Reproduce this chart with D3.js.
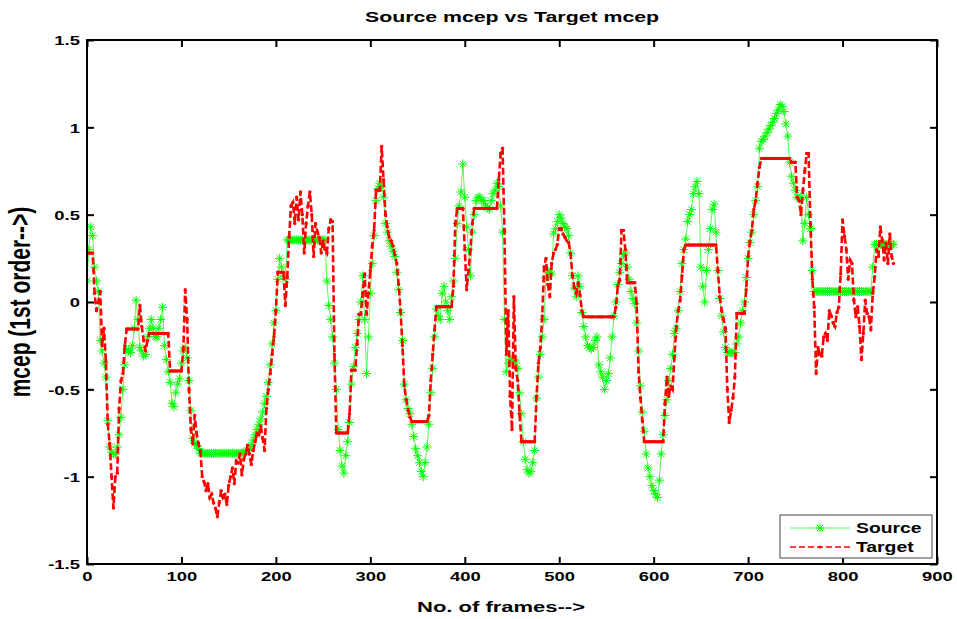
<!DOCTYPE html>
<html>
<head>
<meta charset="utf-8">
<script src="https://cdn.jsdelivr.net/npm/d3@7"></script>
<style>
  html, body { margin: 0; padding: 0; background: #fff; }
  svg { display: block; }
  text { font-family: "Liberation Sans", Arial, sans-serif; font-weight: bold; fill: #000; }
</style>
</head>
<body>
<svg id="chart" width="957" height="619"></svg>
<script>
// ---- data ----
const titleText = "Source mcep vs Target mcep";
const xLabelText = "No. of frames-->";
const yLabelText = "mcep (1st order-->)";
const seriesNames = ["Source", "Target"];
const frameStep = 2; // one value every 2 frames, starting at frame 0
const xTicks = [0, 100, 200, 300, 400, 500, 600, 700, 800, 900];
const yTicks = [-1.5, -1, -0.5, 0, 0.5, 1, 1.5];

const sourceValues = [
  0.12,0.30,0.43,0.38,0.20,0.12,0.06,-0.22,-0.28,-0.35,            // 0-18
  -0.43,-0.68,-0.83,-0.86,-0.87,-0.87,-0.83,-0.76,-0.66,-0.50,     // 20-38
  -0.36,-0.27,-0.28,-0.29,-0.25,-0.15,0.01,-0.10,-0.26,-0.28,      // 40-58
  -0.31,-0.30,-0.20,-0.15,-0.10,-0.15,-0.20,-0.20,-0.15,-0.10,     // 60-78
  -0.03,-0.25,-0.33,-0.40,-0.46,-0.58,-0.60,-0.52,-0.47,-0.44,     // 80-98
  -0.35,-0.28,-0.26,-0.32,-0.45,-0.62,-0.78,-0.81,-0.82,-0.84,     // 100-118
  -0.866,-0.866,-0.866,-0.866,-0.866,-0.866,-0.866,-0.866,-0.866,-0.866, // 120-138
  -0.866,-0.866,-0.866,-0.866,-0.866,-0.866,-0.866,-0.866,-0.866,-0.866, // 140-158
  -0.866,-0.866,-0.866,-0.86,-0.86,-0.85,-0.84,-0.82,-0.79,-0.76,  // 160-178
  -0.73,-0.70,-0.67,-0.63,-0.58,-0.54,-0.46,-0.36,-0.24,-0.12,     // 180-198
  -0.05,0.13,0.25,0.20,0.15,0.13,0.355,0.355,0.355,0.355,          // 200-218
  0.355,0.355,0.355,0.355,0.355,0.355,0.355,0.355,0.355,0.355,     // 220-238
  0.355,0.355,0.355,0.355,0.355,0.355,0.355,0.12,-0.02,-0.10,      // 240-258
  -0.20,-0.35,-0.50,-0.73,-0.85,-0.94,-0.98,-0.88,-0.80,-0.69,     // 260-278
  -0.47,-0.37,-0.26,-0.18,-0.10,0.00,0.15,-0.10,-0.41,-0.20,       // 280-298
  0.05,0.22,0.38,0.58,0.65,0.68,0.66,0.60,0.45,0.40,               // 300-318
  0.35,0.32,0.29,0.26,0.17,0.07,-0.06,-0.22,-0.47,-0.56,           // 320-338
  -0.61,-0.64,-0.70,-0.77,-0.84,-0.88,-0.92,-0.97,-1.00,-0.92,     // 340-358
  -0.83,-0.70,-0.52,-0.38,-0.20,-0.04,-0.08,-0.10,0.05,0.09,       // 360-378
  0.00,-0.05,-0.10,0.03,0.12,0.25,0.45,0.55,0.63,0.79,             // 380-398
  0.60,0.43,0.30,0.15,0.40,0.50,0.58,0.60,0.60,0.58,               // 400-418
  0.58,0.55,0.54,0.53,0.58,0.62,0.64,0.68,0.66,0.55,               // 420-438
  0.40,-0.10,-0.40,-0.35,-0.33,-0.33,-0.33,-0.35,-0.38,-0.52,      // 440-458
  -0.64,-0.80,-0.90,-0.96,-0.98,-0.97,-0.92,-0.85,-0.55,-0.43,     // 460-478
  -0.30,-0.20,-0.10,0.14,0.18,0.17,0.16,0.39,0.42,0.46,            // 480-498
  0.50,0.48,0.45,0.43,0.42,0.38,0.28,0.15,0.08,0.03,               // 500-518
  0.15,0.09,-0.06,-0.14,-0.20,-0.25,-0.26,-0.27,-0.26,-0.22,       // 520-538
  -0.20,-0.36,-0.40,-0.43,-0.50,-0.45,-0.41,-0.32,-0.20,-0.08,     // 540-558
  0.00,0.10,0.17,0.22,0.27,0.28,0.20,0.13,0.06,0.02,               // 560-578
  -0.01,-0.12,-0.28,-0.48,-0.63,-0.74,-0.87,-0.95,-1.00,-1.05,     // 580-598
  -1.08,-1.10,-1.12,-1.02,-0.87,-0.76,-0.65,-0.56,-0.45,-0.38,     // 600-618
  -0.30,-0.18,-0.15,-0.05,0.06,0.22,0.30,0.36,0.46,0.50,           // 620-638
  0.53,0.62,0.66,0.69,0.62,0.20,0.09,0.00,0.18,0.30,               // 640-658
  0.42,0.53,0.56,0.40,0.18,0.02,-0.08,-0.17,-0.26,-0.29,           // 660-678
  -0.29,-0.29,-0.29,-0.29,-0.24,-0.20,-0.12,-0.05,0.00,0.14,       // 680-698
  0.25,0.34,0.40,0.50,0.58,0.66,0.88,0.92,0.93,0.95,               // 700-718
  0.97,0.99,1.01,1.03,1.05,1.08,1.10,1.13,1.12,1.09,               // 720-738
  1.02,0.95,0.80,0.72,0.68,0.64,0.60,0.59,0.60,0.35,               // 740-758
  0.45,0.60,0.50,0.42,0.18,0.06,0.06,0.06,0.06,0.06,               // 760-778
  0.06,0.06,0.06,0.06,0.06,0.06,0.06,0.06,0.06,0.06,               // 780-798
  0.06,0.06,0.06,0.06,0.06,0.06,0.06,0.06,0.06,0.06,               // 800-818
  0.06,0.06,0.06,0.06,0.06,0.06,0.20,0.33,0.33,0.33,               // 820-838
  0.33,0.33,0.33,0.33,0.33,0.33,0.33,0.33                          // 840-854
];

const targetValues = [
  0.28,0.28,0.28,0.28,0.05,-0.05,0.00,0.06,-0.25,-0.15,            // 0-18
  -0.34,-0.70,-0.81,-1.00,-1.18,-1.00,-0.98,-0.61,-0.45,-0.41,     // 20-38
  -0.25,-0.155,-0.155,-0.155,-0.155,-0.155,-0.155,-0.155,-0.02,-0.14, // 40-58
  -0.22,-0.28,-0.22,-0.18,-0.18,-0.18,-0.18,-0.18,-0.18,-0.18,     // 60-78
  -0.18,-0.18,-0.18,-0.18,-0.395,-0.395,-0.395,-0.395,-0.395,-0.395, // 80-98
  -0.395,-0.27,0.07,-0.10,-0.50,-0.73,-0.81,-0.65,-0.75,-0.81,     // 100-118
  -0.85,-1.00,-1.03,-1.08,-1.04,-1.12,-1.10,-1.15,-1.18,-1.23,     // 120-138
  -1.15,-1.08,-1.12,-1.10,-1.16,-1.05,-1.00,-0.95,-1.04,-0.91,     // 140-158
  -0.92,-0.87,-0.99,-0.90,-0.87,-0.82,-0.87,-0.93,-0.85,-0.80,     // 160-178
  -0.75,-0.76,-0.71,-0.78,-0.85,-0.61,-0.50,-0.41,-0.30,-0.20,     // 180-198
  -0.05,0.17,0.17,0.17,0.17,-0.02,0.14,0.37,0.55,0.57,             // 200-218
  0.45,0.60,0.47,0.63,0.50,0.28,0.45,0.55,0.63,0.50,               // 220-238
  0.26,0.45,0.40,0.37,0.28,0.35,0.30,0.28,0.42,0.47,               // 240-258
  0.46,-0.30,-0.75,-0.75,-0.75,-0.75,-0.75,-0.75,-0.75,-0.64,      // 260-278
  -0.39,-0.39,-0.39,-0.24,-0.07,-0.07,0.05,0.16,-0.07,0.05,        // 280-298
  0.18,0.32,0.41,0.64,0.64,0.64,0.89,0.70,0.50,0.43,               // 300-318
  0.37,0.35,0.32,0.27,0.22,0.10,-0.05,-0.25,-0.48,-0.56,           // 320-338
  -0.62,-0.66,-0.685,-0.685,-0.685,-0.685,-0.685,-0.685,-0.685,-0.685, // 340-358
  -0.685,-0.65,-0.45,-0.30,-0.16,-0.027,-0.027,-0.027,-0.027,-0.027, // 360-378
  -0.027,-0.027,-0.027,-0.027,0.09,0.45,0.536,0.536,0.536,0.536,   // 380-398
  0.30,0.07,0.18,0.30,0.45,0.536,0.536,0.536,0.536,0.536,          // 400-418
  0.536,0.536,0.536,0.536,0.536,0.536,0.536,0.536,0.70,0.85,       // 420-438
  0.88,0.41,-0.30,-0.05,-0.54,-0.73,0.03,-0.38,-0.45,-0.64,        // 440-458
  -0.80,-0.80,-0.80,-0.80,-0.80,-0.80,-0.80,-0.80,-0.54,-0.35,     // 460-478
  -0.26,-0.08,0.20,0.25,0.10,0.03,0.22,0.28,0.30,0.33,             // 480-498
  0.42,0.42,0.39,0.37,0.35,0.34,0.28,0.15,0.08,0.05,               // 500-518
  0.11,0.04,-0.05,-0.085,-0.085,-0.085,-0.085,-0.085,-0.085,-0.085, // 520-538
  -0.085,-0.085,-0.085,-0.085,-0.085,-0.085,-0.085,-0.085,-0.085,-0.085, // 540-558
  -0.03,0.09,0.125,0.41,0.41,0.30,0.11,0.11,0.11,0.11,             // 560-578
  0.11,-0.01,-0.40,-0.55,-0.68,-0.80,-0.80,-0.80,-0.80,-0.80,      // 580-598
  -0.80,-0.80,-0.80,-0.80,-0.80,-0.80,-0.58,-0.43,-0.54,-0.48,     // 600-618
  -0.50,-0.31,-0.14,-0.05,0.01,0.15,0.30,0.326,0.326,0.326,        // 620-638
  0.326,0.326,0.326,0.326,0.326,0.326,0.326,0.326,0.326,0.326,     // 640-658
  0.326,0.326,0.326,0.326,0.18,0.03,-0.05,-0.10,-0.15,-0.50,       // 660-678
  -0.69,-0.62,-0.55,-0.43,-0.065,-0.065,-0.065,-0.065,-0.065,0.07, // 680-698
  0.26,0.35,0.41,0.53,0.58,0.68,0.77,0.822,0.822,0.822,            // 700-718
  0.822,0.822,0.822,0.822,0.822,0.822,0.822,0.822,0.822,0.822,     // 720-738
  0.822,0.822,0.822,0.80,0.80,0.80,0.60,0.58,0.50,0.64,            // 740-758
  0.75,0.85,0.85,0.45,0.13,-0.03,-0.41,-0.26,-0.30,-0.31,          // 760-778
  -0.20,-0.18,-0.22,-0.05,-0.08,-0.12,-0.14,-0.06,-0.03,0.16,      // 780-798
  0.47,0.38,0.30,0.13,0.24,0.22,0.01,-0.085,-0.027,-0.14,          // 800-818
  -0.33,-0.18,0.01,-0.065,-0.084,-0.16,0.05,0.145,0.30,0.26,       // 820-838
  0.43,0.355,0.24,0.336,0.22,0.39,0.26,0.22                        // 840-854
];

// ---- layout ----
const svg = d3.select("#chart");
const plot = { left: 87, right: 937, top: 40, bottom: 564 };
const stretch = 1.42; // glyphs in the reference are horizontally widened

const x = d3.scaleLinear().domain([0, 900]).range([plot.left, plot.right]);
const y = d3.scaleLinear().domain([-1.5, 1.5]).range([plot.bottom, plot.top]);

const toPoints = vals => vals.map((v, i) => ({ f: i * frameStep, v }));
const sourceData = toPoints(sourceValues);
const targetData = toPoints(targetValues);

const line = d3.line().x(d => x(d.f)).y(d => y(d.v));

const asterisk = "M-4.5,0H4.5M0,-4.5V4.5M-3.2,-3.2L3.2,3.2M-3.2,3.2L3.2,-3.2";

// clip
svg.append("clipPath").attr("id", "clip").append("rect")
  .attr("x", plot.left).attr("y", plot.top)
  .attr("width", plot.right - plot.left).attr("height", plot.bottom - plot.top);

const gData = svg.append("g").attr("clip-path", "url(#clip)");

// Source: green solid line with asterisks
gData.append("path").datum(sourceData)
  .attr("d", line).attr("fill", "none")
  .attr("stroke", "#00ff00").attr("stroke-width", 0.9).attr("stroke-opacity", 0.75);
gData.append("g").selectAll("path").data(sourceData).join("path")
  .attr("transform", d => `translate(${x(d.f)},${y(d.v)})`)
  .attr("d", asterisk).attr("fill", "none")
  .attr("stroke", "#00ff00").attr("stroke-width", 1);

// Target: red dashed line with dots
gData.append("path").datum(targetData)
  .attr("d", line).attr("fill", "none")
  .attr("stroke", "#ff0000").attr("stroke-width", 2.6)
  .attr("stroke-dasharray", "7,3");
gData.append("g").selectAll("circle").data(targetData).join("circle")
  .attr("cx", d => x(d.f)).attr("cy", d => y(d.v)).attr("r", 1.7)
  .attr("fill", "#ff0000");

// ---- axes ----
const fmt = d => String(d);
const tickLen = 7;

const gx = svg.append("g").attr("transform", `translate(0,${plot.bottom})`)
  .call(d3.axisBottom(x).tickValues(xTicks).tickFormat(fmt).tickSizeInner(-tickLen).tickSizeOuter(0).tickPadding(8));
const gxTop = svg.append("g").attr("transform", `translate(0,${plot.top})`)
  .call(d3.axisTop(x).tickValues(xTicks).tickFormat("").tickSizeInner(-tickLen).tickSizeOuter(0));
const gy = svg.append("g").attr("transform", `translate(${plot.left},0)`)
  .call(d3.axisLeft(y).tickValues(yTicks).tickFormat(fmt).tickSizeInner(-tickLen).tickSizeOuter(0).tickPadding(7));
const gyRight = svg.append("g").attr("transform", `translate(${plot.right},0)`)
  .call(d3.axisRight(y).tickValues(yTicks).tickFormat("").tickSizeInner(-tickLen).tickSizeOuter(0));

[gx, gxTop, gy, gyRight].forEach(g => {
  g.select(".domain").remove();
  g.selectAll(".tick line").attr("stroke", "#000").attr("stroke-width", 2);
  g.selectAll("text").attr("font-family", null).attr("font-size", null);
});
gx.selectAll(".tick text").style("font-size", "13px").attr("fill", "#000")
  .attr("transform", `scale(${stretch},1)`);
gy.selectAll(".tick text").style("font-size", "13px").attr("fill", "#000")
  .attr("x", 0).attr("dy", "0.36em")
  .attr("transform", `translate(-7,0) scale(${stretch},1)`);

// plot box
svg.append("rect")
  .attr("x", plot.left).attr("y", plot.top)
  .attr("width", plot.right - plot.left).attr("height", plot.bottom - plot.top)
  .attr("fill", "none").attr("stroke", "#000").attr("stroke-width", 2);

// ---- titles ----
svg.append("text")
  .attr("transform", `translate(${(plot.left + plot.right) / 2},22) scale(${stretch},1)`)
  .attr("text-anchor", "middle").style("font-size", "15px").text(titleText);
svg.append("text")
  .attr("transform", `translate(${(plot.left + plot.right) / 2 - 11},612) scale(${stretch},1)`)
  .attr("text-anchor", "middle").style("font-size", "15.5px").text(xLabelText);
svg.append("text")
  .attr("transform", `translate(30,${(plot.top + plot.bottom) / 2}) rotate(-90) scale(1,${stretch})`)
  .attr("text-anchor", "middle").style("font-size", "21px").text(yLabelText);

// ---- legend ----
const lg = svg.append("g");
lg.append("rect").attr("x", 780).attr("y", 515).attr("width", 152).attr("height", 43)
  .attr("fill", "#fff").attr("stroke", "#444").attr("stroke-width", 1);
// source entry
lg.append("line").attr("x1", 790).attr("x2", 850).attr("y1", 528).attr("y2", 528)
  .attr("stroke", "#00ff00").attr("stroke-width", 0.9).attr("stroke-opacity", 0.75);
lg.append("path").attr("transform", "translate(820,528)").attr("d", asterisk)
  .attr("fill", "none").attr("stroke", "#00ff00").attr("stroke-width", 1);
lg.append("text").attr("transform", `translate(856,533) scale(1.38,1)`)
  .style("font-size", "14px").text(seriesNames[0]);
// target entry
lg.append("line").attr("x1", 790).attr("x2", 850).attr("y1", 547).attr("y2", 547)
  .attr("stroke", "#ff0000").attr("stroke-width", 1.6).attr("stroke-dasharray", "6,3");
lg.append("circle").attr("cx", 820).attr("cy", 547).attr("r", 1.5).attr("fill", "#ff0000");
lg.append("text").attr("transform", `translate(856,552) scale(1.38,1)`)
  .style("font-size", "14px").text(seriesNames[1]);
</script>
</body>
</html>
